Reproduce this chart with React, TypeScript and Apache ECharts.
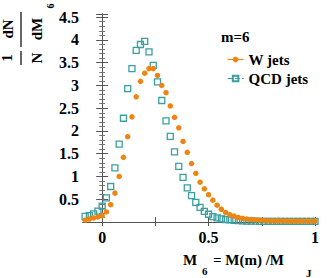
import React, { useEffect, useRef } from "react";
import * as echarts from "echarts";

const binCenters = [
  -0.08, -0.06, -0.04, -0.02, 0.0, 0.02, 0.04, 0.06, 0.08, 0.1, 0.12, 0.14, 0.16, 0.18, 0.2,
  0.22, 0.24, 0.26, 0.28, 0.3, 0.32, 0.34, 0.36, 0.38, 0.4, 0.42, 0.44, 0.46, 0.48, 0.5,
  0.52, 0.54, 0.56, 0.58, 0.6, 0.62, 0.64, 0.66, 0.68, 0.7, 0.72, 0.74, 0.76, 0.78, 0.8,
  0.82, 0.84, 0.86, 0.88, 0.9, 0.92, 0.94, 0.96, 0.98, 1.0,
];

const wJets = [
  0.04, 0.066, 0.09, 0.11, 0.14, 0.22, 0.38, 0.635, 1.0, 1.42, 1.875, 2.31, 2.75, 3.09, 3.27,
  3.37, 3.37, 3.22, 3.0, 2.84, 2.55, 2.3, 2.07, 1.77, 1.53, 1.285, 1.07, 0.875, 0.73, 0.6,
  0.48, 0.37, 0.28, 0.21, 0.16, 0.13, 0.1, 0.08, 0.065, 0.055, 0.045, 0.04, 0.035, 0.03, 0.03,
  0.025, 0.025, 0.025, 0.02, 0.02, 0.02, 0.02, 0.02, 0.02, 0.02,
];

const qcdJets = [
  0.125, 0.14, 0.18, 0.24, 0.35, 0.53, 0.78, 1.19, 1.71, 2.28, 2.93, 3.37, 3.77, 3.9, 3.97,
  3.74, 3.44, 3.08, 2.67, 2.22, 1.88, 1.54, 1.22, 0.98, 0.75, 0.58, 0.43, 0.32, 0.235, 0.17,
  0.12, 0.09, 0.07, 0.055, 0.045, 0.035, 0.03, 0.025, 0.02, 0.02, 0.02, 0.015, 0.015, 0.015, 0.015,
  0.015, 0.015, 0.015, 0.015, 0.015, 0.015, 0.015, 0.015, 0.015, 0.015,
];

const xTickValues = [0, 0.25, 0.5, 0.75, 1];
const xLabelValues = [0, 0.5, 1];
const yLabelValues = [0.5, 1, 1.5, 2, 2.5, 3, 3.5, 4, 4.5];

const ORANGE = "#ee8510";
const TEAL = "#3a9f9f";
const FONT = "Liberation Serif";

export default function App() {
  const ref = useRef<HTMLDivElement>(null);
  useEffect(() => {
    if (!ref.current) return;
    document.body.style.margin = "0";
    const chart = echarts.init(ref.current, undefined, { renderer: "svg" });
    const pair = (ys: number[]) => binCenters.map((x, i) => [x, ys[i]]);
    const axisFont = { fontFamily: FONT, fontWeight: "bold" as const, fontSize: 16, color: "#000" };
    const rotText = (text: string, x: number, y: number, size = 15) => ({
      type: "text",
      x,
      y,
      rotation: Math.PI / 2,
      style: {
        text,
        fontFamily: FONT,
        fontWeight: "bold",
        fontSize: size,
        fill: "#000",
        align: "center",
        verticalAlign: "middle",
      },
    });
    const txt = (text: string, x: number, y: number, size = 15) => ({
      type: "text",
      x,
      y,
      style: {
        text,
        fontFamily: FONT,
        fontWeight: "bold",
        fontSize: size,
        fill: "#000",
        align: "left",
        verticalAlign: "middle",
      },
    });
    chart.setOption({
      animation: false,
      backgroundColor: "#fff",
      grid: { left: 83, right: 17, top: 14, bottom: 56 },
      xAxis: [
        {
          type: "value",
          min: -0.09,
          max: 1,
          axisLine: { show: true, lineStyle: { color: "#000", width: 1 } },
          axisTick: { show: true, inside: true, length: 5, customValues: xTickValues, lineStyle: { color: "#555" } },
          axisLabel: { ...axisFont, margin: 7, customValues: xLabelValues, formatter: (v: number) => String(v) },
          splitLine: { show: false },
        },
        {
          type: "value",
          position: "top",
          min: -0.09,
          max: 1,
          axisLine: { show: true, lineStyle: { color: "#555", width: 1 } },
          axisTick: { show: true, inside: true, length: 4, customValues: xTickValues, lineStyle: { color: "#555" } },
          axisLabel: { show: false },
          splitLine: { show: false },
        },
      ],
      yAxis: [
        {
          type: "value",
          min: 0,
          max: 4.57,
          interval: 0.5,
          axisLine: { show: true, lineStyle: { color: "#555", width: 1 } },
          axisTick: { show: true, inside: true, length: 6, lineStyle: { color: "#555" } },
          minorTick: { show: true, splitNumber: 5, length: 3, lineStyle: { color: "#777" } },
          axisLabel: { ...axisFont, margin: 4, customValues: yLabelValues, formatter: (v: number) => String(v) },
          splitLine: { show: false },
        },
        {
          type: "value",
          position: "right",
          min: 0,
          max: 4.57,
          interval: 0.5,
          axisLine: { show: true, lineStyle: { color: "#555", width: 1 } },
          axisTick: { show: true, inside: true, length: 6, lineStyle: { color: "#555" } },
          minorTick: { show: true, splitNumber: 5, length: 3, lineStyle: { color: "#777" } },
          axisLabel: { show: false },
          splitLine: { show: false },
        },
      ],
      legend: {
        left: 222,
        top: 47,
        orient: "vertical",
        itemWidth: 16,
        itemHeight: 7,
        itemGap: 4,
        textStyle: { fontFamily: FONT, fontWeight: "bold", fontSize: 15, color: "#000", lineHeight: 14 },
        data: [
          { name: "W jets", lineStyle: { color: ORANGE, width: 1.2, opacity: 1, type: "solid" } },
          { name: "QCD jets", lineStyle: { color: TEAL, width: 1.2, opacity: 1, type: "dashed" } },
        ],
      },
      series: [
        {
          name: "QCD jets",
          type: "line",
          data: pair(qcdJets),
          symbol: "rect",
          symbolSize: 6,
          showSymbol: true,
          lineStyle: { opacity: 0, width: 0 },
          itemStyle: { color: "rgba(255,255,255,0)", borderColor: TEAL, borderWidth: 1.3 },
          z: 2,
        },
        {
          name: "W jets",
          type: "line",
          data: pair(wJets),
          symbol: "circle",
          symbolSize: 5.5,
          showSymbol: true,
          lineStyle: { opacity: 0, width: 0 },
          itemStyle: { color: ORANGE },
          z: 3,
        },
      ],
      graphic: [
        txt("m=6", 221, 37, 15),
        // x axis title
        txt("M", 183, 260, 15),
        txt("6", 202, 271, 11),
        txt("= M(m) /M", 213, 260, 15),
        txt("J", 306, 273, 11),
        // y axis title (rotated fractions)
        rotText("1", 7, 58),
        rotText("N", 37, 58),
        { type: "line", shape: { x1: 21, y1: 51, x2: 21, y2: 65 }, style: { stroke: "#000", lineWidth: 1.2 } },
        rotText("dN", 8, 29),
        rotText("dM", 37, 29),
        { type: "line", shape: { x1: 21, y1: 12, x2: 21, y2: 47 }, style: { stroke: "#000", lineWidth: 1.2 } },
        rotText("6", 50, 6, 10),
      ],
    });
    return () => chart.dispose();
  }, []);
  return <div ref={ref} style={{ width: 332, height: 278 }} />;
}
